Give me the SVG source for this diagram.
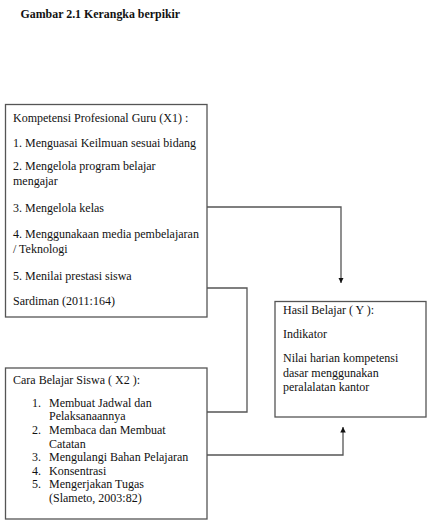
<svg xmlns="http://www.w3.org/2000/svg" width="431" height="520" viewBox="0 0 431 520">
<style>
text{font-family:"Liberation Serif","Times New Roman",serif;font-size:12px;fill:#111}
.title{font-weight:bold;font-size:11.9px}
.box{fill:#fff;stroke:#555;stroke-width:1.3}
.ln{fill:none;stroke:#555;stroke-width:1.3}
</style>
<defs>
<marker id="ah" viewBox="0 0 10 10" refX="10" refY="5" markerWidth="5.5" markerHeight="5.5" markerUnits="userSpaceOnUse" orient="auto">
<path d="M0,0 L10,5 L0,10 Z" fill="#111"/>
</marker>
</defs>
<rect width="431" height="520" fill="#fff"/>
<text class="title" x="20.5" y="18">Gambar 2.1 Kerangka berpikir</text>
<g id="connectors">
<path class="ln" d="M207,207 H341 V283" marker-end="url(#ah)"/>
<path class="ln" d="M207,288 H247 V412 H207"/>
<path class="ln" d="M207,455 H343 V427" marker-end="url(#ah)"/>
</g>
<g id="x1">
<rect class="box" x="5.5" y="104.5" width="201.5" height="212.5"/>
<text x="13" y="122">Kompetensi Profesional Guru (X1) :</text>
<text x="13" y="146.5">1. Menguasai Keilmuan sesuai bidang</text>
<text x="13" y="170">2. Mengelola program belajar</text>
<text x="13" y="184.5">mengajar</text>
<text x="13" y="212">3. Mengelola kelas</text>
<text x="13" y="237.5">4. Menggunakaan media pembelajaran</text>
<text x="13" y="252.5">/ Teknologi</text>
<text x="13" y="280">5. Menilai prestasi siswa</text>
<text x="13" y="305">Sardiman (2011:164)</text>
</g>
<g id="y">
<rect class="box" x="275" y="301.5" width="151" height="115.5"/>
<text x="283" y="314">Hasil Belajar ( Y ):</text>
<text x="283" y="338">Indikator</text>
<text x="283" y="362">Nilai harian kompetensi</text>
<text x="283" y="376.5">dasar menggunakan</text>
<text x="283" y="391">peralalatan kantor</text>
</g>
<g id="x2">
<rect class="box" x="5.5" y="368" width="201.5" height="151"/>
<text x="13" y="384">Cara Belajar Siswa ( X2 ):</text>
<text x="32" y="406.5">1.</text><text x="49" y="406.5">Membuat Jadwal dan</text>
<text x="49" y="420">Pelaksanaannya</text>
<text x="32" y="434">2.</text><text x="49" y="434">Membaca dan Membuat</text>
<text x="49" y="447.5">Catatan</text>
<text x="32" y="461">3.</text><text x="49" y="461">Mengulangi Bahan Pelajaran</text>
<text x="32" y="474.5">4.</text><text x="49" y="474.5">Konsentrasi</text>
<text x="32" y="488">5.</text><text x="49" y="488">Mengerjakan Tugas</text>
<text x="49" y="501.5">(Slameto, 2003:82)</text>
</g>
</svg>
